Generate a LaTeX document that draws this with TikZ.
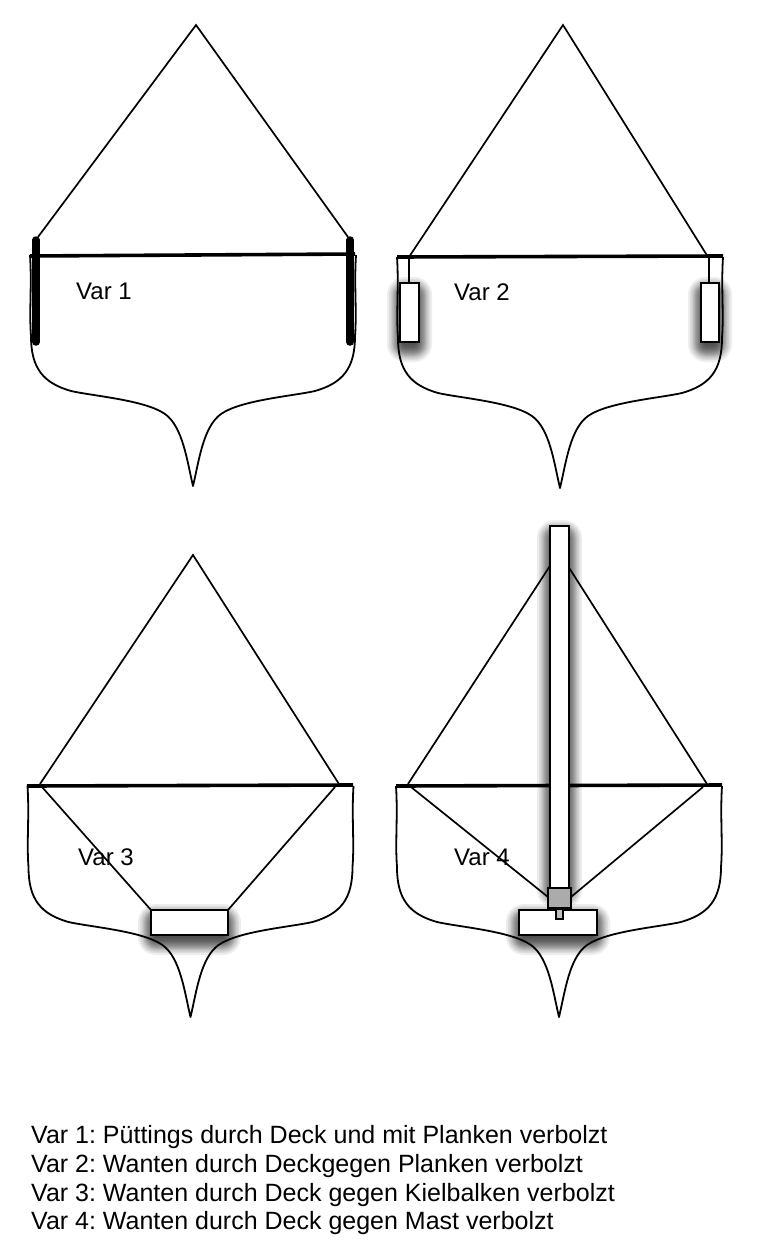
\documentclass[tikz,border=0pt]{standalone}
\usepackage{fontspec}
\setmainfont{Liberation Sans}
\newcommand{\softshadow}[4]{%
  \foreach \e in {-4,-2.5,-1,0,1,2,3,4,5,6,7,8,9.5,11,13}{%
    \pgfmathsetmacro{\rr}{max(\e+5,1)}%
    \fill[black,opacity=0.07,rounded corners=\rr pt] (#1-\e,#2-\e+7) rectangle (#3+\e,#4+\e+7);
  }%
}
\newcommand{\hull}[2]{% tip x, tip y
  \begin{scope}[shift={(#1,#2)}]
    \draw[hullline] (-163,-231) .. controls (-161,-200) and (-164,-175) .. (-162,-150)
      .. controls (-162,-118) and (-150,-103) .. (-122,-95)
      .. controls (-100,-90) and (-48,-86) .. (-28,-72)
      .. controls (-10,-59) and (-6,-25) .. (0,0)
      .. controls (6,-25) and (10,-59) .. (28,-72)
      .. controls (48,-86) and (100,-90) .. (122,-95)
      .. controls (150,-103) and (162,-118) .. (162,-150)
      .. controls (164,-175) and (161,-200) .. (163,-231);
  \end{scope}%
}
\tikzset{
  hullline/.style={draw=black,line width=1.8pt,line join=round},
  thin line/.style={draw=black,line width=1.7pt},
  deckline/.style={draw=black,line width=3.6pt},
  chainplate/.style={draw=black,line width=7.5pt,line cap=round},
  boxpart/.style={draw=black,line width=1.9pt,fill=white},
  label/.style={anchor=base west,inner sep=0pt,font=\fontsize{24}{28}\selectfont\frenchspacing},
  legend/.style={anchor=base west,inner sep=0pt,font=\fontsize{25}{29}\selectfont\frenchspacing},
}
\begin{document}
\begin{tikzpicture}[x=1pt,y=-1pt]
\useasboundingbox (0,0) rectangle (761,1255);
\fill[white] (0,0) rectangle (761,1255);
% Var 1
\hull{193}{486}
\draw[thin line] (38,237) -- (196,25) -- (348,237);
\draw[chainplate] (36,240) -- (36,342);
\draw[chainplate] (350,240) -- (350,342);
\draw[deckline] (30,256) -- (355,254);
\node[label] (v1) at (76,299) {Var 1};
% Var 2
\hull{560}{488}
\softshadow{400}{283}{419}{342}
\softshadow{701}{283}{719}{342}
\draw[thin line] (409,257) -- (563,25) -- (708,257);
\draw[thin line] (409,257) -- (409,283);
\draw[thin line] (709,257) -- (709,283);
\draw[deckline] (397,257) -- (723,256);
\draw[boxpart] (400,283) rectangle (419,342);
\draw[boxpart] (701,283) rectangle (719,342);
\node[label] (v2) at (454,300) {Var 2};
% Var 3
\softshadow{151}{910}{228}{935}
\hull{190.5}{1017}
\draw[thin line] (40,784) -- (193,555) -- (339,784);
\draw[deckline] (27,786) -- (353,785);
\draw[thin line] (42,787) -- (151,910);
\draw[thin line] (335,787) -- (228,910);
\draw[boxpart] (151,910) rectangle (228,935);
\node[label] (v3) at (78,865) {Var 3};
% Var 4
\softshadow{519}{910}{597}{935}
\hull{559}{1017}
\draw[thin line] (408,784) -- (559,552) -- (707,784);
\draw[deckline] (396,786) -- (722,785);
\node[label] (v4) at (454,865) {Var 4};
\softshadow{550}{526}{569}{888}
\draw[thin line] (411,787) -- (548,897);
\draw[thin line] (703,787) -- (571,897);
\draw[boxpart] (550,526) rectangle (569,888);
\draw[boxpart] (519,910) rectangle (597,935);
\draw[boxpart,fill=black!33] (548,888) rectangle (571,908);
\draw[boxpart,fill=black!25,line width=1.2pt] (556,909) rectangle (563,919);
% Legend
\node[legend] (l1) at (31,1143) {Var 1: Püttings durch Deck und mit Planken verbolzt};
\node[legend] (l2) at (31,1172) {Var 2: Wanten durch Deckgegen Planken verbolzt};
\node[legend] (l3) at (31,1201) {Var 3: Wanten durch Deck gegen Kielbalken verbolzt};
\node[legend] (l4) at (31,1229) {Var 4: Wanten durch Deck gegen Mast verbolzt};
\end{tikzpicture}
\end{document}
